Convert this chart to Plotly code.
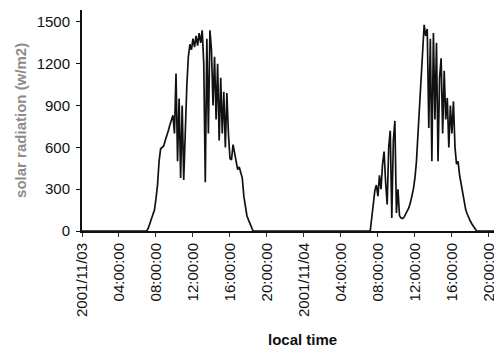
import pandas as pd
import plotly.graph_objects as go

# Day 1 (2001-11-03), 10-minute readings from 07:00
day1_start = "2001-11-03 07:00"
day1_values = [0, 20, 50, 80, 120, 150, 230, 330, 500, 590, 600, 610, 650, 680,
               720, 760, 800, 830, 700, 1130, 500, 950, 380, 900, 366, 800,
               1040, 1250, 1340, 1300, 1380, 1320, 1400, 1330, 1420, 1350, 1440,
               1200, 350, 1380, 700, 1440, 1300, 900, 1250, 800, 1200, 650, 1100,
               700, 1000, 600, 990, 700, 520, 510, 620, 560, 500, 440, 460, 420,
               380, 250, 170, 110, 80, 50, 20, 0]

# Day 2 (2001-11-04), 10-minute readings from 07:10
day2_start = "2001-11-04 07:10"
day2_values = [0, 90, 200, 290, 330, 250, 400, 300, 480, 570, 350, 190, 600,
               720, 93, 650, 790, 130, 300, 110, 93, 90, 100, 120, 140, 165, 200,
               250, 300, 380, 500, 700, 900, 1050, 1300, 1480, 1400, 1450, 740,
               1380, 500, 1420, 800, 1350, 500, 1100, 1240, 700, 1150, 800, 955,
               600, 900, 700, 930, 600, 480, 500, 400, 330, 260, 190, 150, 120,
               90, 70, 50, 30, 10, 0]

tick_vals = ["2001-11-03 00:00", "2001-11-03 04:00", "2001-11-03 08:00",
             "2001-11-03 12:00", "2001-11-03 16:00", "2001-11-03 20:00",
             "2001-11-04 00:00", "2001-11-04 04:00", "2001-11-04 08:00",
             "2001-11-04 12:00", "2001-11-04 16:00", "2001-11-04 20:00"]
tick_text = ["2001/11/03", "04:00:00", "08:00:00", "12:00:00", "16:00:00",
             "20:00:00", "2001/11/04", "04:00:00", "08:00:00", "12:00:00",
             "16:00:00", "20:00:00"]
y_ticks = [0, 300, 600, 900, 1200, 1500]

t1 = pd.date_range(day1_start, periods=len(day1_values), freq="10min")
t2 = pd.date_range(day2_start, periods=len(day2_values), freq="10min")

x = (["2001-11-03 00:00"] + [t.strftime("%Y-%m-%d %H:%M") for t in t1]
     + [t.strftime("%Y-%m-%d %H:%M") for t in t2] + ["2001-11-04 21:30"])
y = [0] + day1_values + day2_values + [0]

fig = go.Figure()
fig.add_trace(go.Scatter(x=x, y=y, mode="lines",
                         line=dict(color="#111111", width=1.7),
                         showlegend=False))

font = "Arial, Liberation Sans, sans-serif"
# The page body adds an 8px offset; the figure is sized to fit the window.
fig.update_layout(
    width=494, height=344,
    margin=dict(l=74, r=0, t=2, b=121),
    paper_bgcolor="white", plot_bgcolor="white",
    font=dict(family=font, color="#111111"),
    xaxis=dict(range=["2001-11-03 00:00", "2001-11-04 21:25"],
               tickmode="array", tickvals=tick_vals, ticktext=tick_text,
               tickangle=-90, tickfont=dict(size=15, family=font, color="#111111"),
               ticklabeloverflow="allow",
               showgrid=False, zeroline=False, showline=True,
               linecolor="#111111", linewidth=2, automargin=False,
               ticks="outside", ticklen=4, tickcolor="#333333"),
    yaxis=dict(range=[0, 1586], tickvals=y_ticks,
               tickfont=dict(size=15, family=font, color="#111111"),
               ticklabelstandoff=3,
               showgrid=False, zeroline=False, showline=True,
               linecolor="#111111", linewidth=2, automargin=False,
               ticks="outside", ticklen=4, tickcolor="#111111"),
)

fig.add_annotation(text="<b>local time</b>", xref="paper", yref="paper",
                   x=0.524, y=-0.493, showarrow=False,
                   font=dict(size=15, family=font, color="#111111"),
                   xanchor="center", yanchor="middle")
fig.add_annotation(text="<b>solar radiation (w/m2)</b>", xref="paper", yref="paper",
                   x=-0.148, y=0.502, showarrow=False, textangle=-90,
                   font=dict(size=15, family=font, color="#8c8c8c"),
                   xanchor="center", yanchor="middle")

fig.write_html("out.html")
